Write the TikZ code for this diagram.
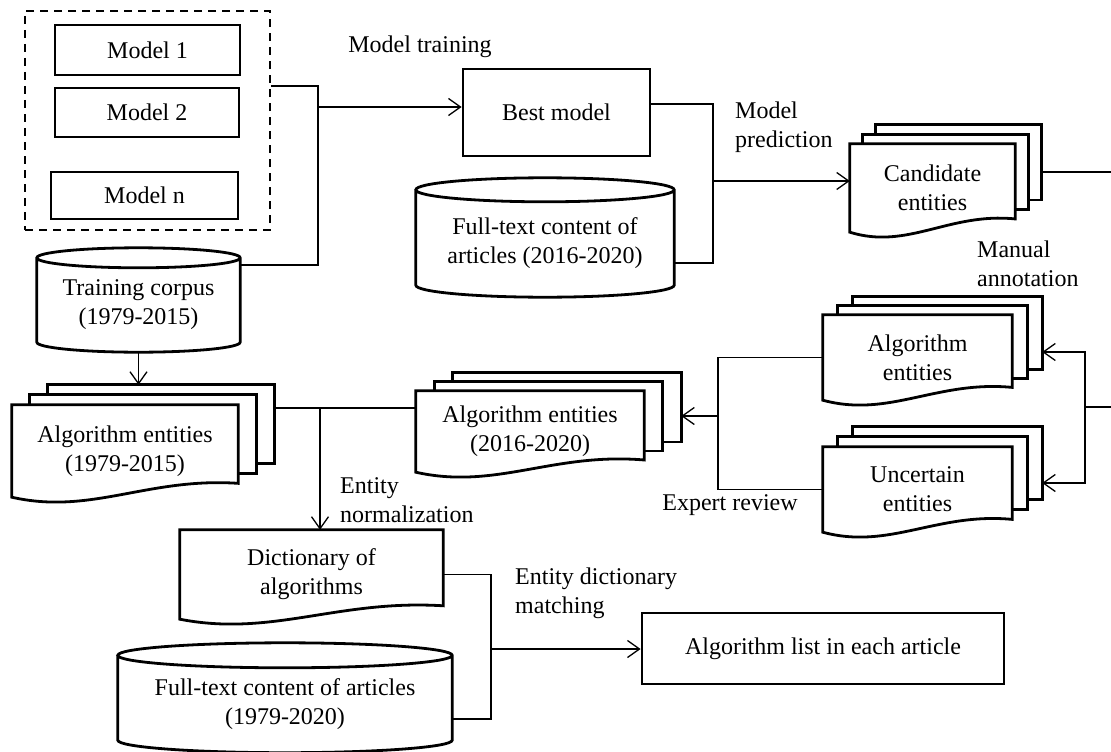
\documentclass[tikz,border=0pt]{standalone}
\usepackage{fontspec}
\setmainfont{Liberation Serif}
\usetikzlibrary{positioning, arrows.meta, calc, backgrounds}

\tikzset{
  mbox/.style={rectangle, draw, line width=2.8pt, align=center, inner sep=2pt},
  holder/.style={rectangle, align=center, inner sep=2pt},
  conn/.style={line width=1.3pt},
  arr/.style={conn, -{Straight Barb[length=12pt,width=17pt]}},
  lbl/.style={align=left, inner sep=0pt}
}

% document shape (wavy bottom) round a holder node
\newcommand\docfront[1]{%
  \begin{scope}[on background layer]
    \draw[line width=2.8pt, fill=white] (#1.north west) -- (#1.north east)
      -- ($(#1.north east)!0.85!(#1.south east)$)
      .. controls ($(#1.south west)!0.6!(#1.south east)+(0,-20)$) and ($(#1.south west)!0.35!(#1.south east)+(0,18)$) .. (#1.south west) -- cycle;
  \end{scope}}

% stack of three documents
\newcommand\docstack[3]{%
  \coordinate (#1-b) at ($(#1.east)+(2*#2,0)$);
  \coordinate (#1-t) at ($(#1.north)+(2*#2,-2*#3)$);
  \begin{scope}[on background layer]
    \foreach \k in {2,1}
      \draw[line width=2.8pt, fill=white] ($(#1.north west)+(\k*#2,-\k*#3)$) rectangle ($(#1.north east)!0.85!(#1.south east)+(\k*#2,-\k*#3)$);
  \end{scope}
  \docfront{#1}}

% database cylinder round a holder node
\newcommand\dbshape[2]{%
  \begin{scope}[on background layer]
    \draw[line width=2.8pt, fill=white] let \p1=(#1.north west), \p2=(#1.south east), \n1={(\x2-\x1)/2} in
      (\x1,\y1+#2pt) -- (\x1,\y2) arc[start angle=180, end angle=360, x radius={\n1*1pt}, y radius=#2pt]
      -- (\x2,\y1+#2pt) arc[start angle=0, end angle=360, x radius={\n1*1pt}, y radius=#2pt];
  \end{scope}}

\begin{document}
\begin{tikzpicture}[x=1pt, y=-1pt, font=\fontsize{24}{29}\selectfont]
        \useasboundingbox (0,0) rectangle (1111,752);

        % Nodes
        \node[rectangle, draw, line width=2pt, dash pattern=on 8pt off 6pt, minimum width=245pt, minimum height=219pt] (pool) at (147.5,120.5) {};
        \node[mbox, minimum width=185pt, minimum height=50pt] (m1) at (147.5,50) {Model 1};
        \node[mbox, minimum width=184pt, minimum height=49pt] (m2) at (147,112.5) {Model 2};
        \node[mbox, minimum width=187pt, minimum height=47pt] (mn) at (144.5,195.5) {Model n};
        \node[mbox, minimum width=187pt, minimum height=87pt] (best) at (556.5,112.5) {Best model};
        \node[mbox, minimum width=362pt, minimum height=71pt] (list) at (823,648.5) {Algorithm list in each article};

        \node[holder, minimum width=203pt, minimum height=74pt] (train) at (138.5,305) {Training corpus\\(1979-2015)};
        \node[holder, minimum width=258pt, minimum height=83pt] (ft1) at (545,243.5) {Full-text content of\\articles (2016-2020)};
        \node[holder, minimum width=334pt, minimum height=72pt] (ft2) at (285,704) {Full-text content of articles\\(1979-2020)};
        \dbshape{train}{10}
        \dbshape{ft1}{12}
        \dbshape{ft2}{12.5}

        \node[holder, minimum width=165pt, minimum height=88pt] (cand) at (932.5,188) {Candidate\\entities};
        \node[holder, minimum width=189pt, minimum height=85pt] (alg) at (917.5,357.5) {Algorithm\\entities};
        \node[holder, minimum width=189pt, minimum height=85pt] (unc) at (917.5,489.5) {Uncertain\\entities};
        \node[holder, minimum width=228pt, minimum height=81pt] (alg2) at (530,431.5) {Algorithm entities\\(2016-2020)};
        \node[holder, minimum width=226pt, minimum height=92pt] (alg1) at (125,451) {Algorithm entities\\(1979-2015)};
        \node[holder, minimum width=263pt, minimum height=89pt] (dict) at (311.5,574.5) {Dictionary of\\algorithms};
        \docstack{cand}{13}{9.5}
        \docstack{alg}{15}{9}
        \docstack{unc}{15}{10}
        \docstack{alg2}{18.5}{9}
        \docstack{alg1}{18}{10}
        \docfront{dict}

        % Labels
        \node[lbl] (lbltrain) at (420,47) {Model training};
        \node[lbl, anchor=west] (lblpred) at (735,127.5) {Model\\prediction};
        \node[lbl, anchor=west] (lblmanual) at (977,264) {Manual\\annotation};
        \node[lbl] (lblexpert) at (730,505) {Expert review};
        \node[lbl, anchor=west] (lblnorm) at (340,500) {Entity\\normalization};
        \node[lbl, anchor=west] (lbldict) at (515,593.5) {Entity dictionary\\matching};

        % Joints
        \coordinate (j1) at (318,107);
        \coordinate (j2) at (713,181);
        \coordinate (j3) at (1085,407);
        \coordinate (j3a) at (1085,352);
        \coordinate (j3b) at (1085,483);
        \coordinate (j4) at (718,416);
        \coordinate (j5) at (320,408);
        \coordinate (j6) at (491,649);
        \coordinate (outR1) at (1111,172);
        \coordinate (outR2) at (1111,407);

        % Edges
        \draw[conn] ([yshift=34.5pt]pool.east) -| (j1) |- ([yshift=40pt]train.east);
        \draw[arr] (j1) -- (j1 -| best.west);
        \draw[conn] ([yshift=8.5pt]best.east) -| (j2) |- ([yshift=-19.5pt]ft1.east);
        \draw[arr] (j2) -- (j2 -| cand.west);
        \draw[conn] (outR1 -| cand-b) -- (outR1);
        \draw[conn] (outR2) -- (j3);
        \draw[arr] (j3) -- (j3a) -- (j3a -| alg-b);
        \draw[arr] (j3) -- (j3b) -- (j3b -| unc-b);
        \draw[conn] (alg.west) -| (j4);
        \draw[conn] (unc.west) -| (j4);
        \draw[arr] (j4) -- (j4 -| alg2-b);
        \draw[arr] ([yshift=-10pt]train.south) -- (train.south |- alg1-t);
        \draw[conn] (j5 -| alg1-b) -- (j5 -| alg2.west);
        \draw[arr] (j5) -- (j5 |- dict.north);
        \draw[conn] (dict.east) -| (j6) |- ([yshift=-15pt]ft2.east);
        \draw[arr] (j6) -- (j6 -| list.west);
\end{tikzpicture}
\end{document}
